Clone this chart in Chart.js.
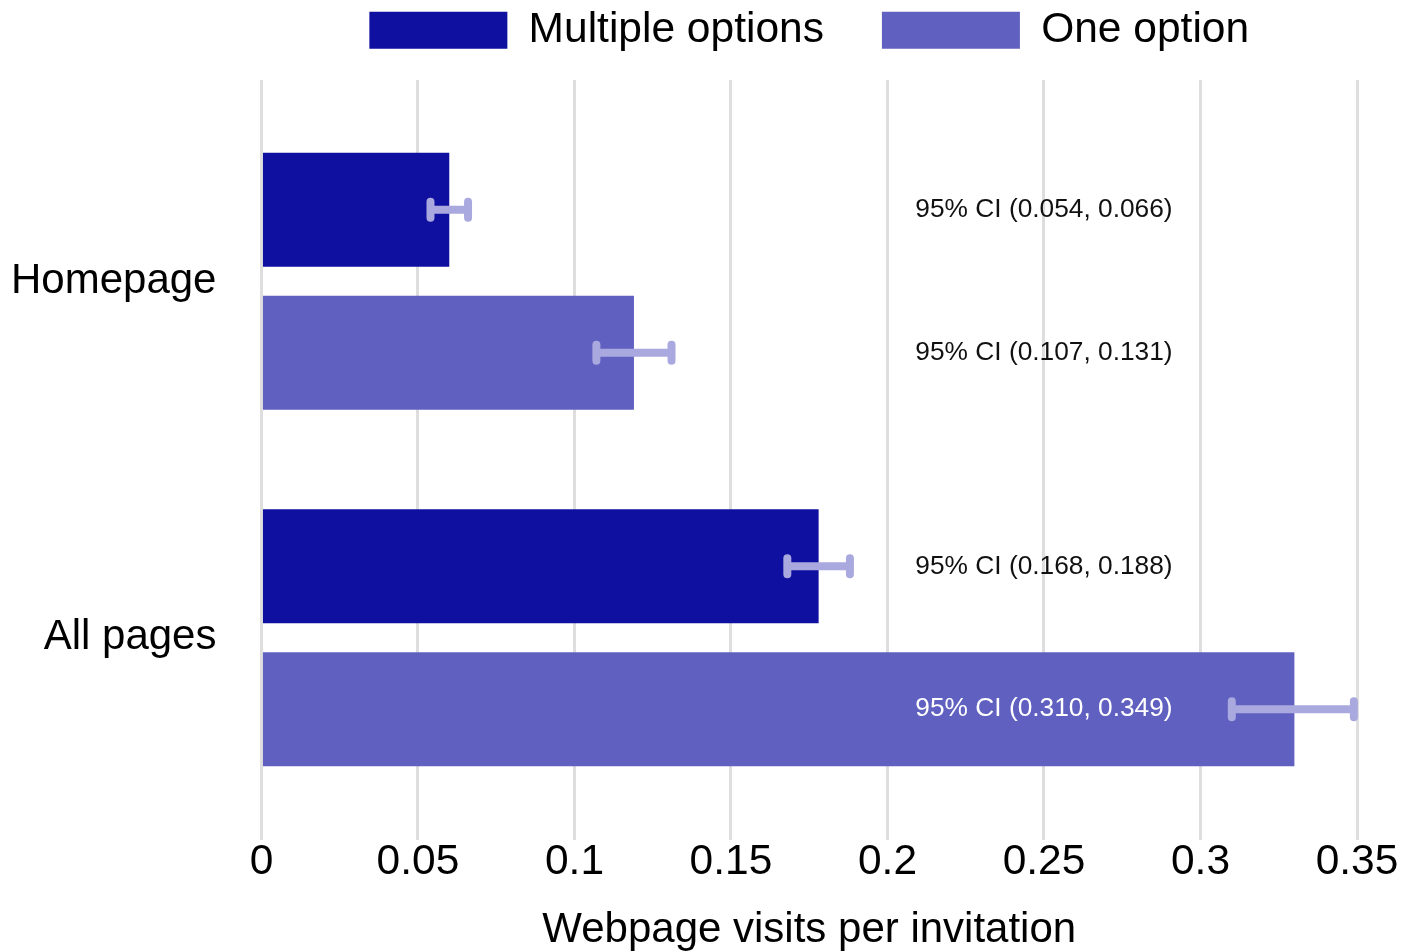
<!DOCTYPE html>
<html>
<head>
<meta charset="utf-8">
<script src="https://cdn.jsdelivr.net/npm/chart.js@4.4.0/dist/chart.umd.min.js"></script>
<style>
html, body { margin: 0; padding: 0; background: #fff; }
#wrap { width: 1414px; height: 951px; }
</style>
</head>
<body>
<div id="wrap"><canvas id="chart"></canvas></div>
<script>
// values
const pages = ["Homepage", "All pages"];
const multipleVisits = [0.060, 0.178];
const oneVisits = [0.119, 0.330];
const multipleLow = [0.054, 0.168];
const multipleHigh = [0.066, 0.188];
const oneLow = [0.107, 0.310];
const oneHigh = [0.131, 0.349];
const xTickLabels = ["0", "0.05", "0.1", "0.15", "0.2", "0.25", "0.3", "0.35"];
const ciLabelAt = 0.25;

Chart.defaults.font.family = "'Liberation Sans', Arial, sans-serif";

// error bars + CI text
const ciPlugin = {
    id: "ciBars",
    afterDatasetsDraw(chart) {
        const ctx = chart.ctx;
        const x = chart.scales.x;
        const ranges = [[multipleLow, multipleHigh], [oneLow, oneHigh]];
        ranges.forEach((pair, d) => {
            const meta = chart.getDatasetMeta(d);
            meta.data.forEach((bar, i) => {
                const lo = x.getPixelForValue(pair[0][i]);
                const hi = x.getPixelForValue(pair[1][i]);
                const y = bar.y;
                ctx.save();
                ctx.strokeStyle = "#a9a9df";
                ctx.lineWidth = 8;
                ctx.lineCap = "round";
                ctx.beginPath();
                ctx.moveTo(lo, y);
                ctx.lineTo(hi, y);
                ctx.moveTo(lo, y - 8);
                ctx.lineTo(lo, y + 8);
                ctx.moveTo(hi, y - 8);
                ctx.lineTo(hi, y + 8);
                ctx.stroke();

                const labelX = x.getPixelForValue(ciLabelAt);
                ctx.fillStyle = bar.x > labelX + 130 ? "#ffffff" : "#111111";
                ctx.font = "26.3px 'Liberation Sans', Arial, sans-serif";
                ctx.textAlign = "center";
                ctx.textBaseline = "middle";
                ctx.fillText("95% CI (" + pair[0][i].toFixed(3) + ", " + pair[1][i].toFixed(3) + ")", labelX, y);
                ctx.restore();
            });
        });
    }
};

const gridColor = "#dedede";

new Chart(document.getElementById("chart"), {
    type: "bar",
    data: {
        labels: pages,
        datasets: [{
            label: "Multiple options",
            data: multipleVisits,
            backgroundColor: "#1010a0",
            categoryPercentage: 0.802,
            barPercentage: 0.797,
        }, {
            label: "One option",
            data: oneVisits,
            backgroundColor: "#6060c0",
            categoryPercentage: 0.802,
            barPercentage: 0.797,
        }],
    },
    options: {
        indexAxis: "y",
        responsive: true,
        maintainAspectRatio: false,
        animation: false,
        layout: { padding: { top: -49, right: 57, bottom: -0.5, left: -34 } },
        plugins: {
            legend: {
                position: "top",
                fullSize: false,
                labels: {
                    boxWidth: 138,
                    boxHeight: 37,
                    padding: 58,
                    color: "#000",
                    font: { size: 42.5 },
                },
            },
            tooltip: { enabled: false },
        },
        scales: {
            x: {
                type: "linear",
                min: 0,
                max: 0.35,
                ticks: {
                    stepSize: 0.05,
                    autoSkip: false,
                    maxRotation: 0,
                    padding: 1.5,
                    color: "#000",
                    font: { size: 42.5, lineHeight: 1 },
                    callback: (value, index) => xTickLabels[index],
                },
                grid: { color: gridColor, lineWidth: 3, drawTicks: true, tickLength: 24 },
                border: { display: false },
                title: {
                    display: true,
                    text: "Webpage visits per invitation",
                    color: "#000",
                    font: { size: 42, lineHeight: 1 },
                    padding: { top: 24, bottom: 0 },
                },
            },
            // only draws the short grid stubs above the plot
            xTop: {
                type: "linear",
                axis: "x",
                position: "top",
                min: 0,
                max: 0.35,
                ticks: { display: false, stepSize: 0.05 },
                grid: { color: gridColor, lineWidth: 3, drawOnChartArea: false, drawTicks: true, tickLength: 23 },
                border: { display: false },
                title: { display: true, text: "", font: { size: 18.5, lineHeight: 1 }, padding: 0 },
            },
            y: {
                ticks: { color: "#000", font: { size: 42 }, padding: 45 },
                grid: { display: false, drawTicks: false },
                border: { display: false },
            },
        },
    },
    plugins: [ciPlugin],
});
</script>
</body>
</html>
